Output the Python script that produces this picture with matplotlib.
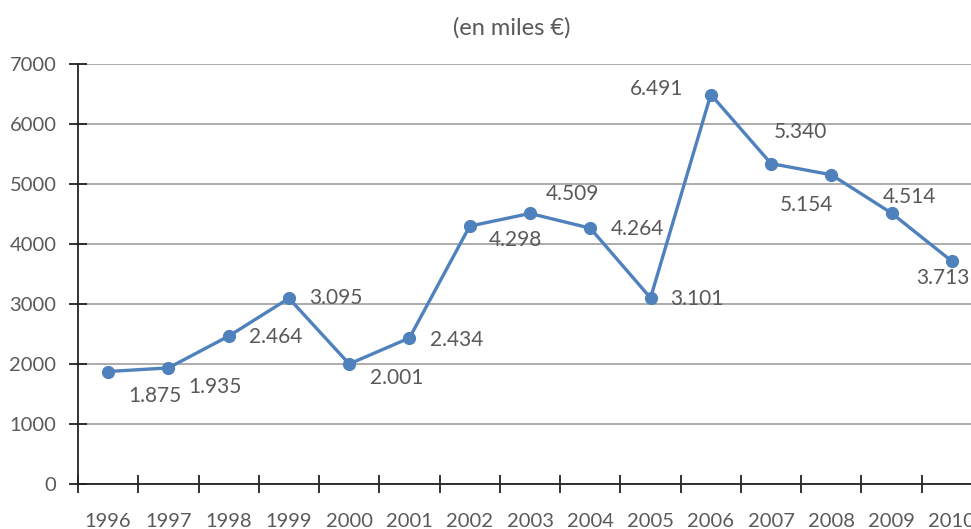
import matplotlib.pyplot as plt

years = ["1996", "1997", "1998", "1999", "2000", "2001", "2002", "2003",
         "2004", "2005", "2006", "2007", "2008", "2009", "2010"]
values = [1875, 1935, 2464, 3095, 2001, 2434, 4298, 4509,
          4264, 3101, 6491, 5340, 5154, 4514, 3713]
labels = ["1.875", "1.935", "2.464", "3.095", "2.001", "2.434", "4.298", "4.509",
          "4.264", "3.101", "6.491", "5.340", "5.154", "4.514", "3.713"]
yticks = [0, 1000, 2000, 3000, 4000, 5000, 6000, 7000]

# label offsets in pixels (dx, dy)
offsets = [(47, -25), (47, -19), (47, -1), (47, 0), (47, -14), (47, -2),
           (46, -14), (42, 19), (47, -1), (46, -1), (-54, 6), (29, 32),
           (-25, -30), (18, 16), (-9, -17)]

blue = "#4f81bd"
grey_text = "#595959"

plt.rcParams["font.family"] = ["Lato", "DejaVu Sans"]

fig = plt.figure(figsize=(9.71, 5.29), dpi=100)
ax = fig.add_axes([78 / 971, 45 / 529, 904 / 971, 420 / 529])

x = list(range(len(years)))
ax.plot(x, values, color=blue, linewidth=2.4, marker="o", markersize=8.5, zorder=3)

for i in range(len(values)):
    ax.annotate(labels[i], (x[i], values[i]), xytext=offsets[i],
                textcoords="offset pixels", ha="center", va="center",
                fontsize=15, color=grey_text)

ax.set_xlim(-0.5, len(years) - 0.5)
ax.set_ylim(0, 7000)
ax.set_yticks(yticks)
ax.set_yticklabels([str(t) for t in yticks])
ax.set_xticks([i - 0.5 for i in range(len(years) + 1)])
ax.set_xticklabels([])
ax.set_xticks(x, minor=True)
ax.set_xticklabels(years, minor=True)

ax.tick_params(axis="y", direction="inout", length=13, width=1.3, color="#222222",
               labelsize=14.5, labelcolor=grey_text, pad=9)
ax.tick_params(axis="x", which="major", direction="inout", length=13, width=1.3,
               color="#222222")
ax.tick_params(axis="x", which="minor", length=0, labelsize=14.5,
               labelcolor=grey_text, pad=21)

ax.grid(axis="y", color="#a6a6a6", linewidth=1.3)
ax.set_axisbelow(True)
for s in ["top", "right"]:
    ax.spines[s].set_visible(False)
for s in ["left", "bottom"]:
    ax.spines[s].set_color("#222222")
    ax.spines[s].set_linewidth(1.3)

fig.text(512 / 971, 1 - 28 / 529, "(en miles €)", ha="center", va="center",
         fontsize=17, color=grey_text)

fig.savefig("out.png", dpi=100)
